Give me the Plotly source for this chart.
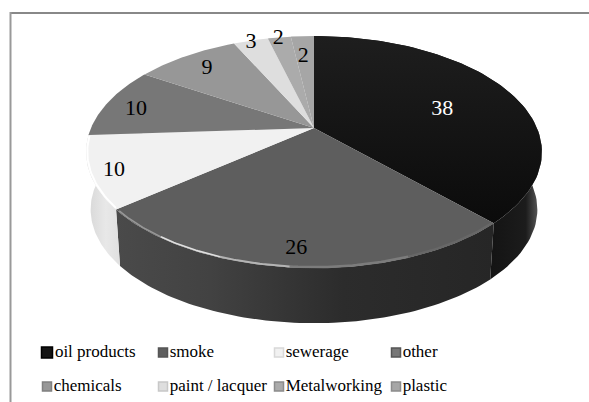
import numpy as np
import plotly.graph_objects as go

categories = ["oil products", "smoke", "sewerage", "other", "chemicals",
              "paint / lacquer", "Metalworking", "plastic"]
values = [38, 26, 10, 10, 9, 3, 2, 2]

# Styling per slice
top_colors = ["#141414", "#5e5e5e", "#f1f1f1", "#777777", "#979797", "#dedede", "#ababab", "#a6a6a6"]
label_colors = ["#ffffff", "#000000", "#000000", "#000000", "#000000", "#000000", "#000000", "#000000"]
side_scales = [
    [[0, "#1a1a1a"], [0.6, "#0a0a0a"], [0.93, "#1c1c1c"], [1, "#6a6a6a"]],
    [[0, "#4a4a4a"], [0.25, "#424242"], [0.6, "#2c2c2c"], [1, "#262626"]],
    [[0, "#d6d6d6"], [0.35, "#e8e8e8"], [1, "#d2d2d2"]],
]
swatch_edges = ["#000000", "#555555", "#d8d8d8", "#555555", "#808080", "#c8c8c8", "#8c8c8c", "#8c8c8c"]
swatch_sizes = [11, 9, 9, 9, 9, 9, 9, 9]

# Perspective view of the disc, in page pixels
CX, CY = 314, 128
A, B, K = 223, 111, 0.207
DROP, SHRINK = 58, 0.98

# The left wall wraps round the silhouette, past the end of its slice
LEFT_WALL_END = 300

# Value label placement: radial fraction and small angular nudge (degrees)
label_radius = [0.618, 0.891, 0.903, 0.843, 0.805, 0.971, 0.981, 0.74]
label_turn = [5.8, 0.6, -1.3, -2.9, -0.6, -0.4, -0.5, -0.7]

# Legend grid
legend_x = [47, 163, 279, 396]
legend_y = [352.5, 386.5]

# Rim highlights: start and end in degrees clockwise from twelve o'clock
rim_lights = [
    (137, 160, "#676767", 2.5),
    (160, 185, "#7c7c7c", 2.5),
    (185, 200, "#b4b4b4", 2),
    (200, 215, "#e0e0e0", 1.6),
    (215, 229.5, "#989898", 1.5),
    (231, 266, "#ffffff", 2),
]


def project(theta_deg, radius=1.0, drop=0.0, scale=1.0):
    t = np.radians(theta_deg)
    u, v = radius * np.sin(t), radius * np.cos(t) * -1
    d = 1 - K * v
    return CX + scale * A * u / d, CY + drop + scale * B * v / d


edges = np.concatenate([[0], np.cumsum(values)]) / np.sum(values) * 360
fig = go.Figure()

# Outer walls first, so the top faces cover their hidden parts
wall_ends = [edges[1], edges[2], LEFT_WALL_END]
for i, end in enumerate(wall_ends):
    arc = np.linspace(edges[i], end, 80)
    x1, y1 = project(arc)
    x2, y2 = project(arc[::-1], drop=DROP, scale=SHRINK)
    fig.add_trace(go.Scatter(
        x=np.concatenate([x1, x2]), y=np.concatenate([y1, y2]),
        mode="lines", line=dict(width=0), fill="toself",
        fillgradient=dict(type="horizontal", colorscale=side_scales[i]),
        hoverinfo="skip",
    ))

# Top faces; the largest slice darkens slightly towards the viewer
for i, name in enumerate(categories):
    arc = np.linspace(edges[i], edges[i + 1], 80)
    x1, y1 = project(arc)
    style = dict(fillcolor=top_colors[i])
    if i == 0:
        style = dict(fillgradient=dict(type="vertical",
                                       colorscale=[[0, "#0b0b0b"], [1, "#1e1e1e"]]))
    fig.add_trace(go.Scatter(
        x=np.concatenate([[CX], x1, [CX]]), y=np.concatenate([[CY], y1, [CY]]),
        mode="lines", line=dict(width=0), fill="toself",
        name=name, hoverinfo="name", **style,
    ))

# Bevel highlights along the front rim
for start, end, color, width in rim_lights:
    arc = np.linspace(start, end, 30)
    x1, y1 = project(arc, radius=0.995)
    fig.add_trace(go.Scatter(x=x1, y=y1, mode="lines",
                             line=dict(color=color, width=width), hoverinfo="skip"))

# Value labels
mids = (edges[:-1] + edges[1:]) / 2
lx, ly = [], []
for m, r, t in zip(mids, label_radius, label_turn):
    px, py = project(m + t, radius=r)
    lx.append(float(px))
    ly.append(float(py))
fig.add_trace(go.Scatter(
    x=lx, y=ly, mode="text", text=[str(v) for v in values],
    textposition="middle center",
    textfont=dict(family="Liberation Serif", size=22, color=label_colors),
    hoverinfo="skip",
))

# Legend, two rows of four
for i, name in enumerate(categories):
    fig.add_trace(go.Scatter(
        x=[legend_x[i % 4]], y=[legend_y[i // 4]], mode="markers+text",
        marker=dict(symbol="square", size=swatch_sizes[i], color=top_colors[i],
                    line=dict(color=swatch_edges[i], width=1.5)),
        text=[name], textposition="middle right",
        textfont=dict(family="Liberation Serif", size=17, color="#000000"),
        hoverinfo="skip",
    ))

# Frame lines on the top and left edges only
fig.add_shape(type="line", x0=10, x1=589, y0=13, y1=13, line=dict(color="#888888", width=2))
fig.add_shape(type="line", x0=10.5, x1=10.5, y0=12, y1=402, line=dict(color="#999999", width=2))

fig.update_layout(
    width=589, height=402, margin=dict(l=0, r=0, t=0, b=0),
    paper_bgcolor="#ffffff", plot_bgcolor="#ffffff", showlegend=False,
    xaxis=dict(range=[0, 589], visible=False, fixedrange=True),
    yaxis=dict(range=[402, 0], visible=False, fixedrange=True),
)
fig.write_html("out.html", config=dict(displayModeBar=False))
